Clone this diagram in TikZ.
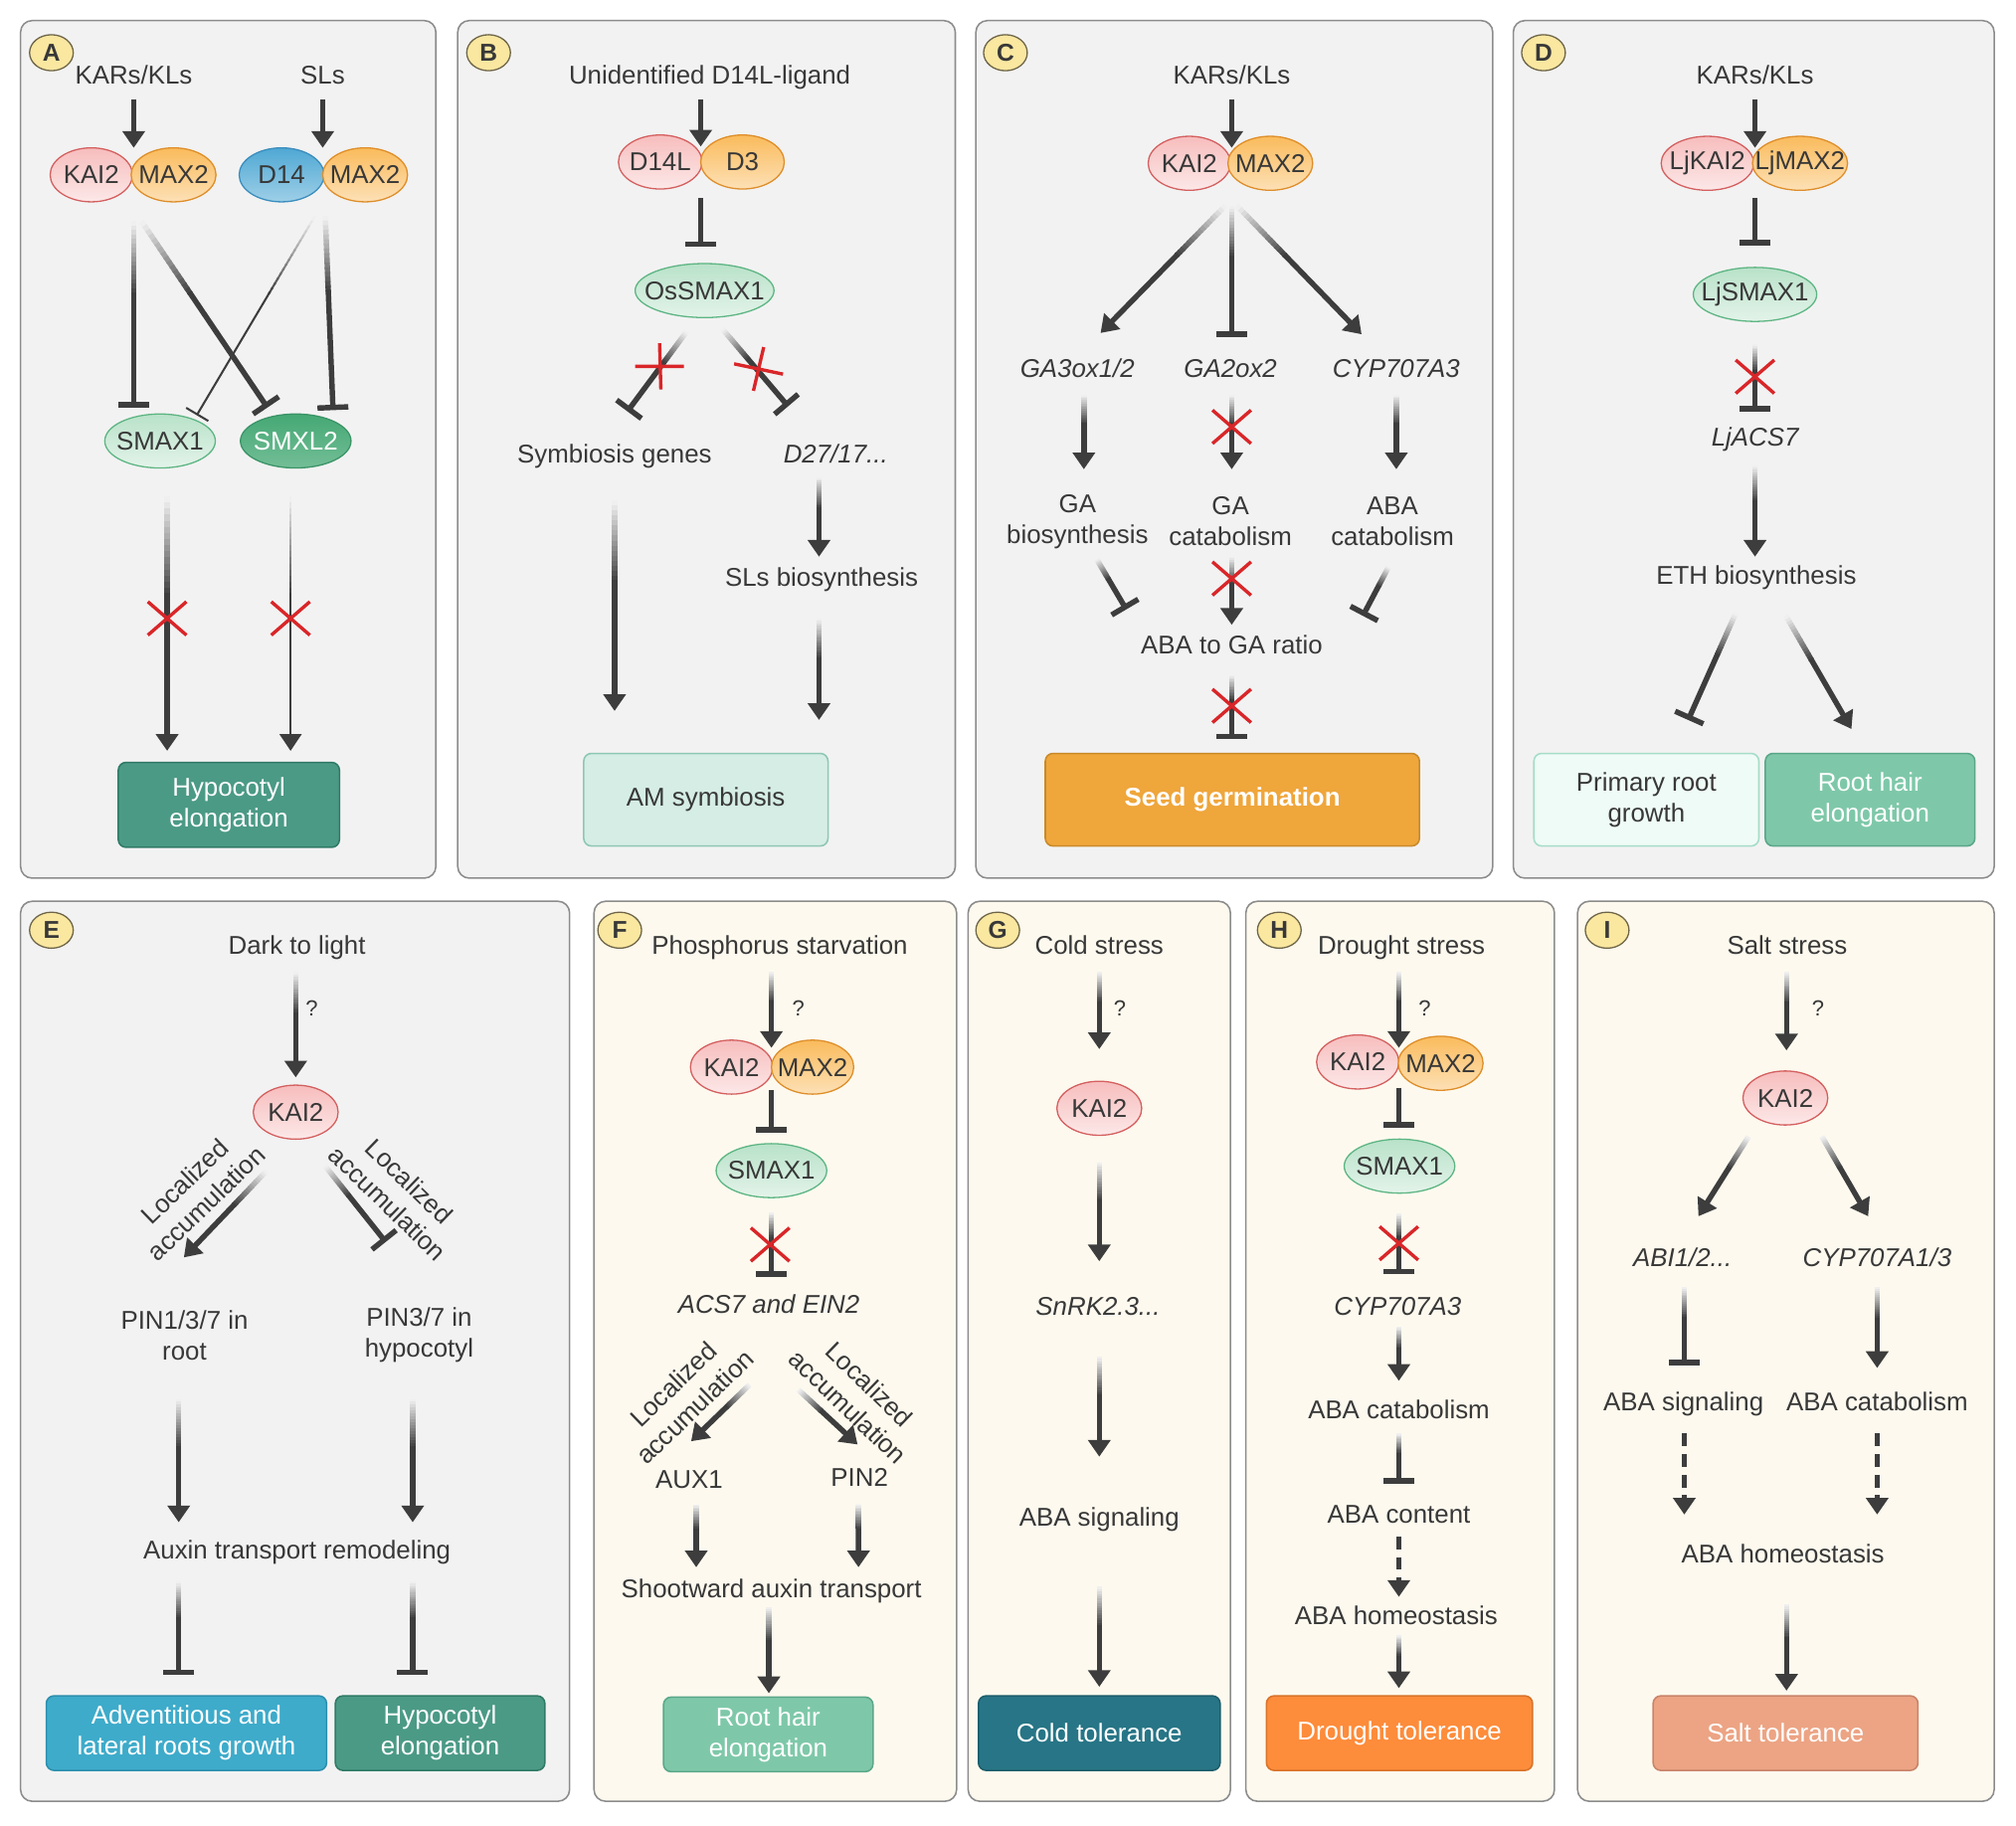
\documentclass[tikz,border=0pt]{standalone}
\usepackage{fontspec}
\setmainfont{Liberation Sans}
\usetikzlibrary{arrows.meta,calc,shapes.geometric}
\definecolor{ink}{HTML}{3D3D3D}
\definecolor{txtc}{HTML}{383838}
\definecolor{panG}{HTML}{F2F2F2}
\definecolor{panC}{HTML}{FDF9EE}
\definecolor{panB}{HTML}{8C8C8C}
\definecolor{pinkF}{HTML}{F7BDBD}
\definecolor{pinkD}{HTML}{D45F5F}
\definecolor{oraF}{HTML}{FABB5C}
\definecolor{oraD}{HTML}{DE8E2A}
\definecolor{bluF}{HTML}{4FA8D4}
\definecolor{bluD}{HTML}{3A8DBD}
\definecolor{lgrF}{HTML}{B9E2C9}
\definecolor{lgrD}{HTML}{5DB583}
\definecolor{dgrF}{HTML}{45A874}
\definecolor{dgrD}{HTML}{3A9466}
\definecolor{yelF}{HTML}{FAE7A0}
\definecolor{yelD}{HTML}{6E6548}
\definecolor{redx}{HTML}{D92629}
\definecolor{bTeal}{HTML}{4B9A86}\definecolor{bTealD}{HTML}{2F7A66}
\definecolor{bPale}{HTML}{D5EDE5}\definecolor{bPaleD}{HTML}{8EC7B4}
\definecolor{bOra}{HTML}{EFA63B}\definecolor{bOraD}{HTML}{C98A2A}
\definecolor{bWhite}{HTML}{EFFBF6}\definecolor{bWhiteD}{HTML}{A5DDC8}
\definecolor{bMint}{HTML}{7EC8A9}\definecolor{bMintD}{HTML}{5AA789}
\definecolor{bBlue}{HTML}{3EABCA}\definecolor{bBlueD}{HTML}{2C8FAE}
\definecolor{bDteal}{HTML}{277586}\definecolor{bDtealD}{HTML}{1C5D6B}
\definecolor{bDor}{HTML}{FD8C3B}\definecolor{bDorD}{HTML}{D97229}
\definecolor{bSalm}{HTML}{ECA484}\definecolor{bSalmD}{HTML}{C9836A}
\newcommand\fs{\fontsize{20}{24}\selectfont}
\tikzset{
  panel/.style={draw=panB, line width=1.2pt, rounded corners=9pt},
  lbl/.style={ellipse, draw=yelD, fill=yelF, line width=1pt, minimum width=34pt, minimum height=28pt, inner sep=0pt, font=\fontsize{19}{20}\selectfont\bfseries, text=txtc},
  t1/.style={text=txtc, font=\fs, inner sep=0pt, text height=14.5pt, text depth=0pt},
  t2/.style={text=txtc, font=\fs, inner sep=0pt, align=center, yshift=-2.5pt},
  g1/.style={t1, font=\fs\itshape},
  qm/.style={text=txtc, font=\fontsize{17}{20}\selectfont, inner sep=0pt},
  prot/.style={ellipse, line width=1pt, inner sep=0pt, minimum height=42pt},
  pink/.style={prot, draw=pinkD, top color=pinkF, bottom color=pinkF!35!white},
  ora/.style={prot, draw=oraD, top color=oraF, bottom color=oraF!45!white},
  blu/.style={prot, draw=bluD, top color=bluF, bottom color=bluF!55!white},
  lgr/.style={prot, draw=lgrD, top color=lgrF, bottom color=lgrF!40!white},
  dgr/.style={prot, draw=dgrD, top color=dgrF, bottom color=dgrF!75!white},
  ptx/.style={text=txtc, font=\fs, inner sep=0pt},
  ptw/.style={text=white, font=\fs, inner sep=0pt},
  obox/.style={rounded corners=6pt, line width=1.2pt, align=center, font=\fs, text=white, inner sep=0pt},
  thk/.style={line width=4.2pt},
  thn/.style={line width=1.6pt},
  ar/.style={-{Triangle[width=17pt,length=13pt]}},
  inh/.style={-{Bar[width=24pt]}},
  inhs/.style={-{Bar[width=20pt]}},
  dsh/.style={dash pattern=on 10pt off 6pt},
  xmk/.style={draw=redx, line width=2.6pt},
}
% gradient connector: #1 tip, #2 width style, #3 from, #4 to
\newcommand\gl[4][]{%
  \foreach \k in {0,1,...,15}{%
    \pgfmathsetmacro\ta{0.024*\k}%
    \pgfmathsetmacro\tb{0.024*\k+0.03}%
    \pgfmathtruncatemacro\cc{8+5.8*\k}%
    \draw[#2, draw=ink!\cc!white] ($(#3)!\ta!(#4)$) -- ($(#3)!\tb!(#4)$);%
  }%
  \draw[#2, draw=ink, #1] ($(#3)!0.38!(#4)$) -- (#4);%
}
% protein ellipse: #1 text style, #2 name, #3 style, #4 position, #5 width, #6 text
\newcommand\prot[6][ptx]{%
  \node[#3, minimum width=#5pt] (#2) at (#4) {};
  \node[#1] (#2-t) at (#2) {#6};%
}
\newcommand\xm[1]{\draw[xmk] ($(#1)+(-15,-13)$) -- ($(#1)+(15,13)$) ($(#1)+(-15,13)$) -- ($(#1)+(15,-13)$);}
\begin{document}
\begin{tikzpicture}[x=1pt,y=-1pt]
\useasboundingbox (0,0) rectangle (1568,1420);
\fill[white] (0,0) rectangle (1568,1420);

% ================= Panel A =================
\draw[panel, fill=panG] (16,16) rectangle (339,683);
\node[lbl] (la) at (40,41) {A};
\node[t1] (akar) at (104,58) {KARs/KLs};
\node[t1] (asl) at (251,58) {SLs};
\prot{akai}{pink}{71,136}{64}{KAI2}
\prot{amax}{ora}{135,136}{66}{MAX2}
\prot{ad14}{blu}{219,136}{66}{D14}
\prot{amaxb}{ora}{284,136}{66}{MAX2}
\prot{asmax}{lgr}{124.5,343}{86}{SMAX1}
\prot[ptw]{asmxl}{dgr}{230,343}{86}{SMXL2}
\node[obox, fill=bTeal, draw=bTealD, minimum width=172pt, minimum height=66pt] (ahyp) at (178,626) {Hypocotyl\\elongation};
\coordinate (a1s) at (104,77); \coordinate (a1e) at (104,115);
\coordinate (a0s) at (251,77); \coordinate (a0e) at (251,115);
\draw[thk, ink, ar] (a1s) -- (a1e);
\draw[thk, ink, ar] (a0s) -- (a0e);
\coordinate (a2s) at (104,172); \coordinate (a2e) at (104,317);
\coordinate (a3s) at (110,172); \coordinate (a3e) at (208,317);
\coordinate (a4s) at (245,168); \coordinate (a4e) at (153,323);
\coordinate (a5s) at (253,168); \coordinate (a5e) at (259,319);
\coordinate (a6s) at (130,386); \coordinate (a6e) at (130,584);
\coordinate (a7s) at (226,386); \coordinate (a7e) at (226,584);
\gl[inhs]{thn}{a4s}{a4e}
\gl[inh]{thk}{a2s}{a2e}
\gl[inh]{thk}{a3s}{a3e}
\gl[inh]{thk}{a5s}{a5e}
\gl[ar]{thk}{a6s}{a6e}
\gl[ar]{thn}{a7s}{a7e}
\coordinate (ax1) at (130,481); \coordinate (ax2) at (226,481);
\xm{ax1} \xm{ax2}

% ================= Panel B =================
\draw[panel, fill=panG] (356,16) rectangle (743,683);
\node[lbl] (lb) at (380,41) {B};
\node[t1] (bun) at (552,58) {Unidentified D14L-ligand};
\prot{bd14l}{pink}{513.5,126}{65}{D14L}
\prot{bd3}{ora}{577.5,126}{65}{D3}
\prot{bos}{lgr}{548,226}{108}{OsSMAX1}
\coordinate (b1s) at (545,77); \coordinate (b1e) at (545,114);
\draw[thk, ink, ar] (b1s) -- (b1e);
\coordinate (b2s) at (545,154); \coordinate (b2e) at (545,192);
\draw[thk, ink, inh] (b2s) -- (b2e);
\coordinate (b3s) at (534,258); \coordinate (b3e) at (488,320);
\coordinate (b4s) at (562,256); \coordinate (b4e) at (613,316);
\gl[inh]{thk}{b3s}{b3e}
\gl[inh]{thk}{b4s}{b4e}
\draw[xmk] (494,285) -- (532,285) (513,267) -- (514,303);
\draw[xmk] (571,283) -- (609,291) (594,270) -- (586,304);
\node[t1] (bsym) at (478,353) {Symbiosis genes};
\node[g1] (bd27) at (650,353) {D27/17...};
\node[t1] (bslb) at (639,449) {SLs biosynthesis};
\coordinate (b5s) at (478,389); \coordinate (b5e) at (478,553);
\coordinate (b6s) at (637,371); \coordinate (b6e) at (637,433);
\coordinate (b7s) at (637,481); \coordinate (b7e) at (637,560);
\gl[ar]{thk}{b5s}{b5e}
\gl[ar]{thk}{b6s}{b6e}
\gl[ar]{thk}{b7s}{b7e}
\node[obox, fill=bPale, draw=bPaleD, text=txtc, minimum width=190pt, minimum height=72pt] (bam) at (549,622) {AM symbiosis};

% ================= Panel C =================
\draw[panel, fill=panG] (759,16) rectangle (1161,683);
\node[lbl] (lc) at (782,41) {C};
\node[t1] (ckar) at (958,58) {KARs/KLs};
\prot{ckai}{pink}{925,127}{64}{KAI2}
\prot{cmax}{ora}{988,127}{66}{MAX2}
\coordinate (c1s) at (958,77); \coordinate (c1e) at (958,115);
\draw[thk, ink, ar] (c1s) -- (c1e);
\coordinate (c2s) at (953,160); \coordinate (c2e) at (856,259);
\coordinate (c3s) at (958,160); \coordinate (c3e) at (958,262);
\coordinate (c4s) at (962,160); \coordinate (c4e) at (1059,260);
\gl[ar]{thk}{c2s}{c2e}
\gl[inh]{thk}{c3s}{c3e}
\gl[ar]{thk}{c4s}{c4e}
\node[g1] (cga3) at (838,286) {GA3ox1/2};
\node[g1] (cga2) at (957,286) {GA2ox2};
\node[g1] (ccyp) at (1086,286) {CYP707A3};
\coordinate (c5s) at (843,307); \coordinate (c5e) at (843,365);
\coordinate (c6s) at (958,307); \coordinate (c6e) at (958,365);
\coordinate (c7s) at (1086,307); \coordinate (c7e) at (1086,365);
\gl[ar]{thk}{c5s}{c5e}
\gl[ar]{thk}{c6s}{c6e}
\gl[ar]{thk}{c7s}{c7e}
\node[t2] (cgab) at (838,403) {GA\\biosynthesis};
\node[t2] (cgac) at (957,403) {GA\\catabolism};
\node[t2] (cabc) at (1083,403) {ABA\\catabolism};
\coordinate (c8s) at (853,435); \coordinate (c8e) at (876,474);
\coordinate (c9s) at (958,433); \coordinate (c9e) at (958,486);
\coordinate (c10s) at (1080,441); \coordinate (c10e) at (1060,479);
\gl[inh]{thk}{c8s}{c8e}
\gl[ar]{thk}{c9s}{c9e}
\gl[inh]{thk}{c10s}{c10e}
\node[t1] (cratio) at (958,501) {ABA to GA ratio};
\coordinate (c11s) at (958,525); \coordinate (c11e) at (958,575);
\gl[inh]{thk}{c11s}{c11e}
\coordinate (cx1) at (958,332); \coordinate (cx2) at (958,450); \coordinate (cx3) at (958,549);
\xm{cx1} \xm{cx2} \xm{cx3}
\node[obox, fill=bOra, draw=bOraD, minimum width=291pt, minimum height=72pt, font=\fs\bfseries] (cseed) at (958.5,622) {Seed germination};

% ================= Panel D =================
\draw[panel, fill=panG] (1177,16) rectangle (1551,683);
\node[lbl] (ld) at (1200.5,41) {D};
\node[t1] (dkar) at (1365,58) {KARs/KLs};
\prot{dkai}{pink}{1328,127}{72}{LjKAI2}
\prot{dmax}{ora}{1400,127}{74}{LjMAX2}
\prot{dsmax}{lgr}{1365,229}{96}{LjSMAX1}
\coordinate (d1s) at (1365,77); \coordinate (d1e) at (1365,115);
\draw[thk, ink, ar] (d1s) -- (d1e);
\coordinate (d2s) at (1365,154); \coordinate (d2e) at (1365,191);
\draw[thk, ink, inh] (d2s) -- (d2e);
\coordinate (d3s) at (1365,268); \coordinate (d3e) at (1365,320);
\gl[inh]{thk}{d3s}{d3e}
\coordinate (dx1) at (1365,293); \xm{dx1}
\node[g1] (dacs) at (1365,340) {LjACS7};
\coordinate (d4s) at (1365,362); \coordinate (d4e) at (1365,433);
\gl[ar]{thk}{d4s}{d4e}
\node[t1] (deth) at (1366,447) {ETH biosynthesis};
\coordinate (d5s) at (1350,477); \coordinate (d5e) at (1313,560);
\coordinate (d6s) at (1389,479); \coordinate (d6e) at (1440,567);
\gl[inh]{thk}{d5s}{d5e}
\gl[ar]{thk}{d6s}{d6e}
\node[obox, fill=bWhite, draw=bWhiteD, text=txtc, minimum width=175pt, minimum height=72pt] (dprim) at (1280.5,622) {Primary root\\growth};
\node[obox, fill=bMint, draw=bMintD, minimum width=163pt, minimum height=72pt] (droot) at (1454.5,622) {Root hair\\elongation};

% ================= Panel E =================
\draw[panel, fill=panG] (16,701) rectangle (443,1401);
\node[lbl] (le) at (40,723.5) {E};
\node[t1] (edark) at (231,735) {Dark to light};
\coordinate (e1s) at (230,756); \coordinate (e1e) at (230,838);
\gl[ar]{thk}{e1s}{e1e}
\node[qm] (eq) at (242.5,784) {?};
\prot{ekai}{pink}{230,865}{66}{KAI2}
\coordinate (e2s) at (207,911); \coordinate (e2e) at (143,978);
\coordinate (e3s) at (253,907); \coordinate (e3e) at (300,966);
\gl[ar]{thk}{e2s}{e2e}
\gl[inh]{thk}{e3s}{e3e}
\node[t2, rotate=44] (eloc1) at (152,925) {Localized\\accumulation};
\node[t2, rotate=-44] (eloc2) at (310,925) {Localized\\accumulation};
\node[t2] (epin1) at (143.5,1036) {PIN1/3/7 in\\root};
\node[t2] (epin3) at (326,1036) {PIN3/7 in\\hypocotyl};
\coordinate (e4s) at (139,1088); \coordinate (e4e) at (139,1184);
\coordinate (e5s) at (321,1088); \coordinate (e5e) at (321,1184);
\gl[ar]{thk}{e4s}{e4e}
\gl[ar]{thk}{e5s}{e5e}
\node[t1] (eaux) at (231,1205) {Auxin transport remodeling};
\coordinate (e6s) at (139,1230); \coordinate (e6e) at (139,1303);
\coordinate (e7s) at (321,1230); \coordinate (e7e) at (321,1303);
\gl[inh]{thk}{e6s}{e6e}
\gl[inh]{thk}{e7s}{e7e}
\node[obox, fill=bBlue, draw=bBlueD, minimum width=218pt, minimum height=58pt] (eadv) at (145,1348) {Adventitious and\\lateral roots growth};
\node[obox, fill=bTeal, draw=bTealD, minimum width=163pt, minimum height=58pt] (ehyp) at (342.3,1348) {Hypocotyl\\elongation};

% ================= Panel F =================
\draw[panel, fill=panC] (462,701) rectangle (744,1401);
\node[lbl] (lf) at (482,723.5) {F};
\node[t1] (fphos) at (606.5,735) {Phosphorus starvation};
\coordinate (f1s) at (600,756); \coordinate (f1e) at (600,815);
\gl[ar]{thk}{f1s}{f1e}
\node[qm] (fq) at (621,784) {?};
\prot{fkai}{pink}{569,830}{64}{KAI2}
\prot{fmax}{ora}{632,830}{64}{MAX2}
\coordinate (f2s) at (600,848); \coordinate (f2e) at (600,881);
\draw[thk, ink, inh] (f2s) -- (f2e);
\prot{fsmax}{lgr}{600,910.5}{86}{SMAX1}
\coordinate (f3s) at (600,943); \coordinate (f3e) at (600,993);
\gl[inh]{thk}{f3s}{f3e}
\coordinate (fx1) at (599,968); \xm{fx1}
\node[g1] (facs) at (598,1014) {ACS7 and EIN2};
\coordinate (f4s) at (583,1077); \coordinate (f4e) at (537.5,1121);
\coordinate (f5s) at (621,1081); \coordinate (f5e) at (667,1123.5);
\gl[ar]{thk}{f4s}{f4e}
\gl[ar]{thk}{f5s}{f5e}
\node[t2, rotate=44] (floc1) at (532,1083) {Localized\\accumulation};
\node[t2, rotate=-44] (floc2) at (668,1083) {Localized\\accumulation};
\node[t1] (faux) at (536,1150) {AUX1};
\node[t1] (fpin) at (668.5,1149) {PIN2};
\coordinate (f6s) at (541.5,1170); \coordinate (f6e) at (541.5,1219);
\coordinate (f7s) at (667.7,1170); \coordinate (f7e) at (667.7,1219);
\gl[ar]{thk}{f6s}{f6e}
\gl[ar]{thk}{f7s}{f7e}
\node[t1] (fshoot) at (600,1235.5) {Shootward auxin transport};
\coordinate (f8s) at (598,1250); \coordinate (f8e) at (598,1317);
\gl[ar]{thk}{f8s}{f8e}
\node[obox, fill=bMint, draw=bMintD, minimum width=163pt, minimum height=58pt] (froot) at (597.5,1349) {Root hair\\elongation};

% ================= Panel G =================
\draw[panel, fill=panC] (753,701) rectangle (957,1401);
\node[lbl] (lg) at (776,723.5) {G};
\node[t1] (gcold) at (855,735) {Cold stress};
\coordinate (g1s) at (855,756); \coordinate (g1e) at (855,816);
\gl[ar]{thk}{g1s}{g1e}
\node[qm] (gq) at (871,784) {?};
\prot{gkai}{pink}{855,862}{66}{KAI2}
\coordinate (g2s) at (855,904); \coordinate (g2e) at (855,981);
\gl[ar]{thk}{g2s}{g2e}
\node[g1] (gsnr) at (854,1016) {SnRK2.3...};
\coordinate (g3s) at (855,1055); \coordinate (g3e) at (855,1133);
\gl[ar]{thk}{g3s}{g3e}
\node[t1] (gaba) at (855,1180) {ABA signaling};
\coordinate (g4s) at (855,1234); \coordinate (g4e) at (855,1312);
\gl[ar]{thk}{g4s}{g4e}
\node[obox, fill=bDteal, draw=bDtealD, minimum width=188pt, minimum height=58pt] (gcoldt) at (855,1348) {Cold tolerance};

% ================= Panel H =================
\draw[panel, fill=panC] (969,701) rectangle (1209,1401);
\node[lbl] (lh) at (995,723.5) {H};
\node[t1] (hdr) at (1090,735) {Drought stress};
\coordinate (h1s) at (1088,756); \coordinate (h1e) at (1088,815);
\gl[ar]{thk}{h1s}{h1e}
\node[qm] (hq) at (1108,784) {?};
\prot{hkai}{pink}{1056,826}{64}{KAI2}
\prot{hmax}{ora}{1120.5,827}{66}{MAX2}
\coordinate (h2s) at (1088,846); \coordinate (h2e) at (1088,877);
\draw[thk, ink, inh] (h2s) -- (h2e);
\prot{hsmax}{lgr}{1088.5,907}{86}{SMAX1}
\coordinate (h3s) at (1088,944); \coordinate (h3e) at (1088,991);
\gl[inh]{thk}{h3s}{h3e}
\coordinate (hx1) at (1088,967); \xm{hx1}
\node[g1] (hcyp) at (1087,1016) {CYP707A3};
\coordinate (h4s) at (1088,1032); \coordinate (h4e) at (1088,1074);
\gl[ar]{thk}{h4s}{h4e}
\node[t1] (hcat) at (1088,1096.5) {ABA catabolism};
\coordinate (h5s) at (1088,1115); \coordinate (h5e) at (1088,1154);
\gl[inh]{thk}{h5s}{h5e}
\node[t1] (hcont) at (1088,1177.5) {ABA content};
\coordinate (h6s) at (1088,1195); \coordinate (h6e) at (1088,1242);
\draw[thk, ink, dsh, ar] (h6s) -- (h6e);
\node[t1] (hhom) at (1086,1256) {ABA homeostasis};
\coordinate (h7s) at (1088,1272); \coordinate (h7e) at (1088,1313);
\gl[ar]{thk}{h7s}{h7e}
\node[obox, fill=bDor, draw=bDorD, minimum width=207pt, minimum height=58pt] (hdt) at (1088.5,1348) {Drought tolerance};

% ================= Panel I =================
\draw[panel, fill=panC] (1227,701) rectangle (1551,1401);
\node[lbl] (li) at (1250,723.5) {I};
\node[t1] (isalt) at (1390,735) {Salt stress};
\coordinate (i1s) at (1389.5,756); \coordinate (i1e) at (1389.5,817);
\gl[ar]{thk}{i1s}{i1e}
\node[qm] (iq) at (1414,784) {?};
\prot{ikai}{pink}{1388.6,854}{66}{KAI2}
\coordinate (i2s) at (1360,884); \coordinate (i2e) at (1321,946);
\coordinate (i3s) at (1417,884); \coordinate (i3e) at (1453,946);
\gl[ar]{thk}{i2s}{i2e}
\gl[ar]{thk}{i3s}{i3e}
\node[g1] (iabi) at (1308.6,977.6) {ABI1/2...};
\node[g1] (icyp) at (1460,977.6) {CYP707A1/3};
\coordinate (i4s) at (1310,1001); \coordinate (i4e) at (1310,1062);
\coordinate (i5s) at (1460,1001); \coordinate (i5e) at (1460,1064);
\gl[inh]{thk}{i4s}{i4e}
\gl[ar]{thk}{i5s}{i5e}
\node[t1] (isig) at (1309.4,1090) {ABA signaling};
\node[t1] (icat) at (1460,1090) {ABA catabolism};
\coordinate (i6s) at (1310,1115); \coordinate (i6e) at (1310,1178);
\coordinate (i7s) at (1460,1115); \coordinate (i7e) at (1460,1178);
\draw[thk, ink, dsh, ar] (i6s) -- (i6e);
\draw[thk, ink, dsh, ar] (i7s) -- (i7e);
\node[t1] (ihom) at (1386.7,1208) {ABA homeostasis};
\coordinate (i8s) at (1389.5,1248); \coordinate (i8e) at (1389.5,1315);
\gl[ar]{thk}{i8s}{i8e}
\node[obox, fill=bSalm, draw=bSalmD, minimum width=206pt, minimum height=58pt] (isalt2) at (1388.75,1348) {Salt tolerance};
\end{tikzpicture}
\end{document}
